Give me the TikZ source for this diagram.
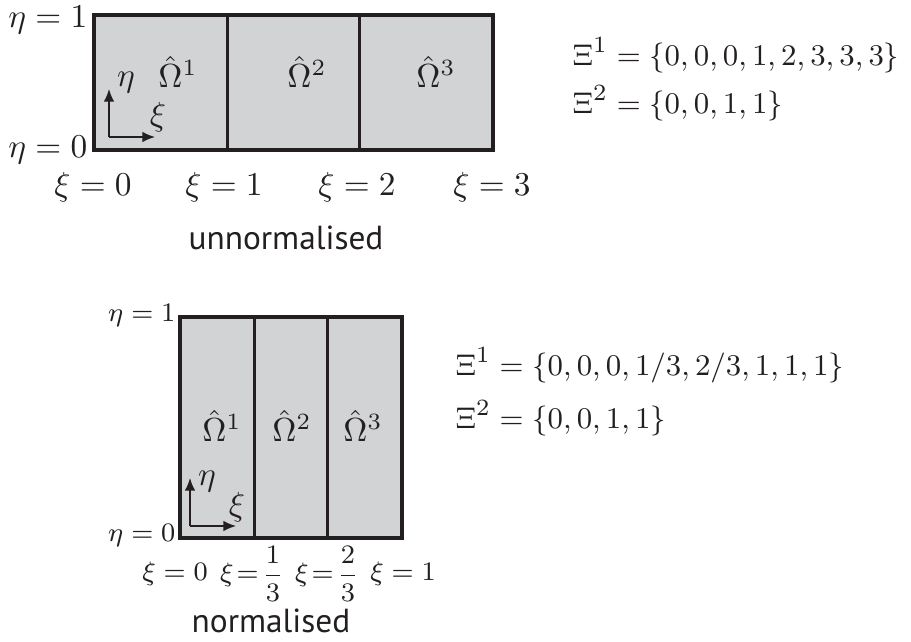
\documentclass[tikz,border=0pt]{standalone}
\usepackage{fontspec}
\usepackage{amsmath}
\setsansfont{PT Sans}
\usetikzlibrary{arrows.meta}
\definecolor{cellgray}{HTML}{D1D3D4}
\definecolor{ink}{HTML}{231F20}
\begin{document}
\begin{tikzpicture}[x=0.3pt,y=-0.3pt,
  topcell/.style={draw=ink, fill=cellgray, line width=0.7pt, rectangle, inner sep=0pt,
                  minimum width=39.69pt, minimum height=39.9pt},
  botcell/.style={draw=ink, fill=cellgray, line width=0.7pt, rectangle, inner sep=0pt,
                  minimum width=22pt, minimum height=65.7pt},
  frame/.style={draw=ink, line width=1pt},
  axis/.style={draw=ink, line width=0.5pt, -{Latex[length=3.8pt,width=3.2pt]}},
  lbl/.style={inner sep=0pt, text=ink},
  small/.style={inner sep=0pt, text=ink, font=\fontsize{8}{9.6}\selectfont},
  knot/.style={inner sep=0pt, text=ink, anchor=west, font=\fontsize{9.3}{11.2}\selectfont},
  caption/.style={font=\sffamily\fontsize{10}{12}\selectfont, text=ink, inner sep=0pt}]
\useasboundingbox (0,0) rectangle (911,642);

% ---------- unnormalised ----------
\node[topcell] (t1) at (161.2,82.5) {};
\node[topcell] (t2) at (293.5,82.5) {};
\node[topcell] (t3) at (425.8,82.5) {};
\draw[frame] (t1.north west) rectangle (t3.south east);

\node[lbl] (to1) at (178,72) {$\hat{\Omega}^1$};
\node[lbl] (to2) at (307,72) {$\hat{\Omega}^2$};
\node[lbl] (to3) at (436,72) {$\hat{\Omega}^3$};

\coordinate (tO) at (109,137);
\coordinate (tEta) at (109,89);
\coordinate (tXi) at (155,137);
\draw[axis] (tO) -- (tEta);
\draw[axis] (tO) -- (tXi);
\node[lbl] (teta) at (126,83) {$\eta$};
\node[lbl] (txi) at (158,117) {$\xi$};

\node[lbl, anchor=east] (teta1) at (88,20) {$\eta=1$};
\node[lbl, anchor=east] (teta0) at (88,150) {$\eta=0$};

\node[lbl] (txi0) at (93,187) {$\xi=0$};
\node[lbl] (txi1) at (224,187) {$\xi=1$};
\node[lbl] (txi2) at (357,187) {$\xi=2$};
\node[lbl] (txi3) at (492,187) {$\xi=3$};

\node[caption] (tcap) at (286,238) {unnormalised};

\node[knot] (tk1) at (572,55) {$\Xi^1=\{0,0,0,1,2,3,3,3\}$};
\node[knot] (tk2) at (572,103) {$\Xi^2=\{0,0,1,1\}$};

% ---------- normalised ----------
\node[botcell] (b1) at (217.7,427.5) {};
\node[botcell] (b2) at (291,427.5) {};
\node[botcell] (b3) at (364.3,427.5) {};
\draw[frame] (b1.north west) rectangle (b3.south east);

\node[lbl] (bo1) at (222,426) {$\hat{\Omega}^1$};
\node[lbl] (bo2) at (292,426) {$\hat{\Omega}^2$};
\node[lbl] (bo3) at (363,426) {$\hat{\Omega}^3$};

\coordinate (bO) at (190,526);
\coordinate (bEta) at (190,478);
\coordinate (bXi) at (236,526);
\draw[axis] (bO) -- (bEta);
\draw[axis] (bO) -- (bXi);
\node[lbl] (beta) at (207,482) {$\eta$};
\node[lbl] (bxi) at (237,507) {$\xi$};

\node[small, anchor=east] (beta1) at (176,316) {$\eta=1$};
\node[small, anchor=east] (beta0) at (176,535) {$\eta=0$};

\node[small] (bxi0) at (175,574) {$\xi=0$};
\node[small] (bxi1) at (252,574) {$\xi\!=\!\dfrac{1}{3}$};
\node[small] (bxi2) at (327,574) {$\xi\!=\!\dfrac{2}{3}$};
\node[small] (bxi3) at (403,574) {$\xi=1$};

\node[caption] (bcap) at (271,621) {normalised};

\node[knot] (bk1) at (455,365) {$\Xi^1=\{0,0,0,1/3,2/3,1,1,1\}$};
\node[knot] (bk2) at (455,418) {$\Xi^2=\{0,0,1,1\}$};
\end{tikzpicture}
\end{document}
